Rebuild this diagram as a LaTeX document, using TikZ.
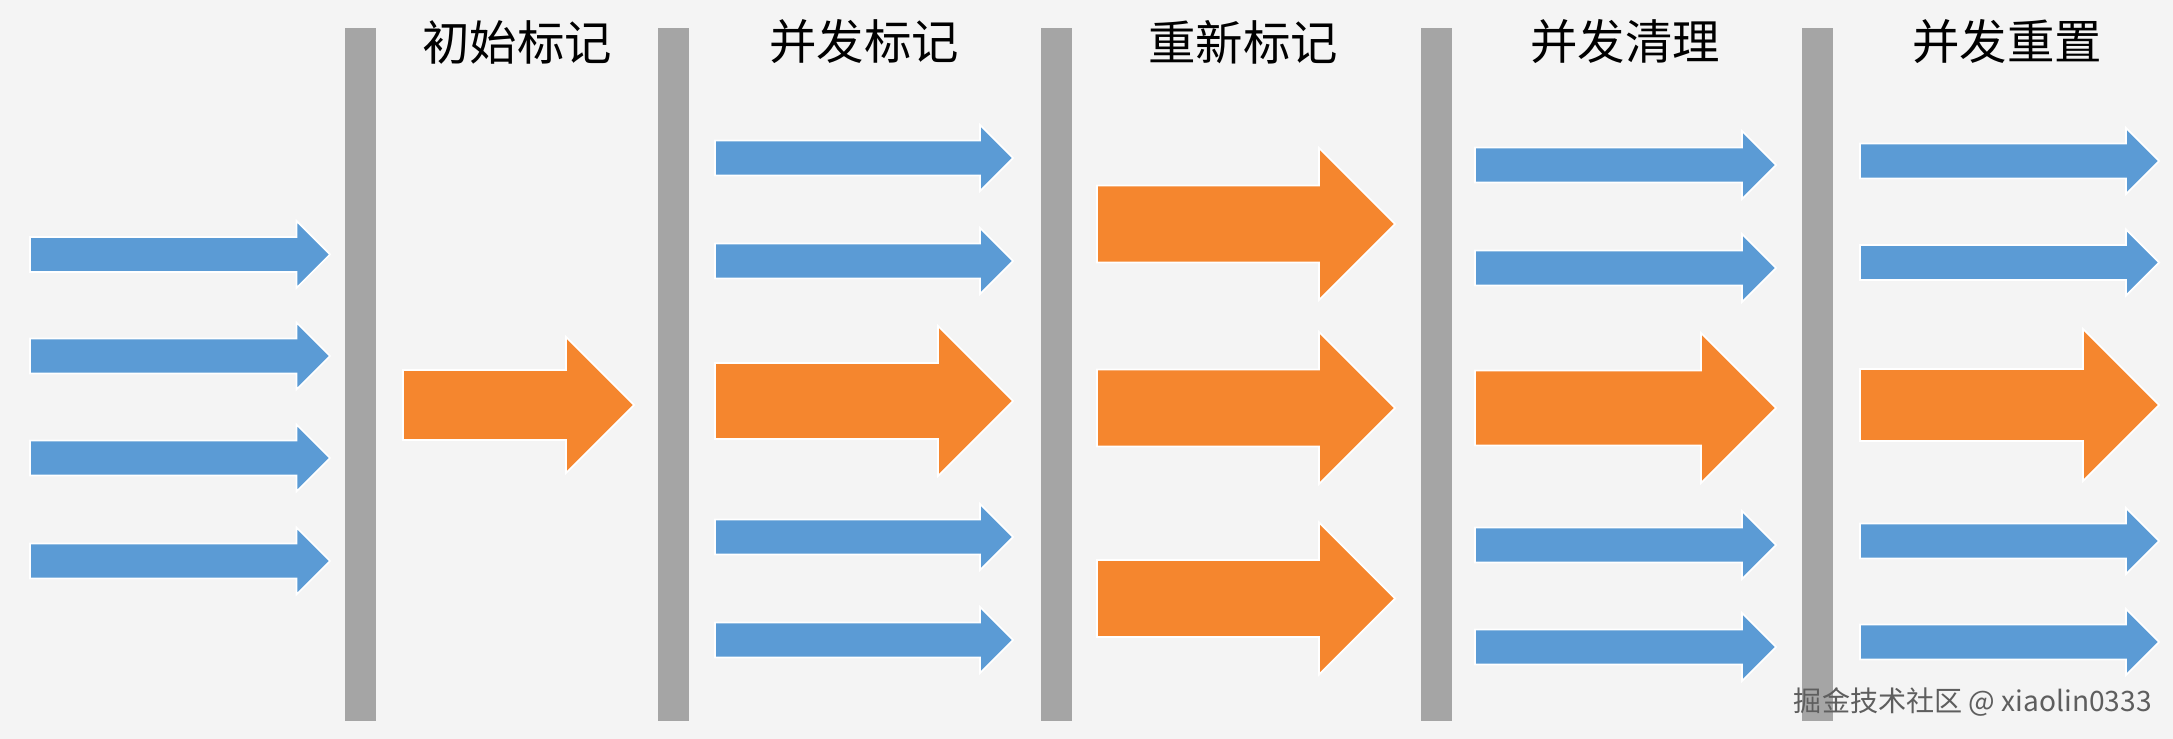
\documentclass[tikz,border=0pt]{standalone}
\usepackage{fontspec}
\setmainfont{Noto Sans CJK SC}
\usepackage{tikz}
\usetikzlibrary{positioning}
\definecolor{paper}{HTML}{F4F4F4}
\definecolor{wall}{HTML}{A5A5A5}
\definecolor{live}{HTML}{5B9BD5}
\definecolor{halt}{HTML}{F5862E}
\definecolor{credit}{HTML}{5E5E5E}
\newcommand{\phasearrow}[6]{%
  \fill[#1, draw=white, line width=1pt, line join=miter]
    (#2,#4-#5) -- (#3-#6,#4-#5) -- (#3-#6,#4-#6) -- (#3,#4)
    -- (#3-#6,#4+#6) -- (#3-#6,#4+#5) -- (#2,#4+#5) -- cycle;}

\begin{document}
\begin{tikzpicture}[x=0.02cm, y=-0.02cm,
    phase/.style={font=\fontsize{27}{30}\selectfont, text=black, inner sep=0pt}]
  \path[use as bounding box, fill=paper] (0,0) rectangle (2173,739);

  \foreach \x in {345,658,1041,1421,1802}
    \fill[wall] (\x,28) rectangle ++(31,693);

  \foreach \n/\x/\t in {init/517/初始标记, conc/864/并发标记, remark/1243/重新标记,
                        sweep/1625/并发清理, reset/2007/并发重置}
    \node[phase] (\n) at (\x,42) {\t};

  \foreach \y in {254.5,356,458,561}
    {\phasearrow{live}{30}{330}{\y}{17.5}{33.5}}
  \phasearrow{halt}{403}{634}{405}{35}{68}

  \foreach \y in {158,261,537,640}
    {\phasearrow{live}{715}{1013}{\y}{17.5}{33}}
  \phasearrow{halt}{715}{1013}{401}{38}{75}

  \foreach \y in {224,408,598.5}
    {\phasearrow{halt}{1097}{1395}{\y}{38.5}{76}}

  \foreach \y in {165,268,545,647}
    {\phasearrow{live}{1475}{1776}{\y}{17.5}{34}}
  \phasearrow{halt}{1475}{1776}{408}{37.5}{75}

  \foreach \y in {161,262.5,541,642}
    {\phasearrow{live}{1860}{2159}{\y}{17.5}{33}}
  \phasearrow{halt}{1860}{2159}{405}{36}{76}

  \node[anchor=east, font=\fontsize{16}{18}\selectfont, text=credit, inner sep=0pt]
    (watermark) at (2152,702) {掘金技术社区 @ xiaolin0333};
\end{tikzpicture}
\end{document}
